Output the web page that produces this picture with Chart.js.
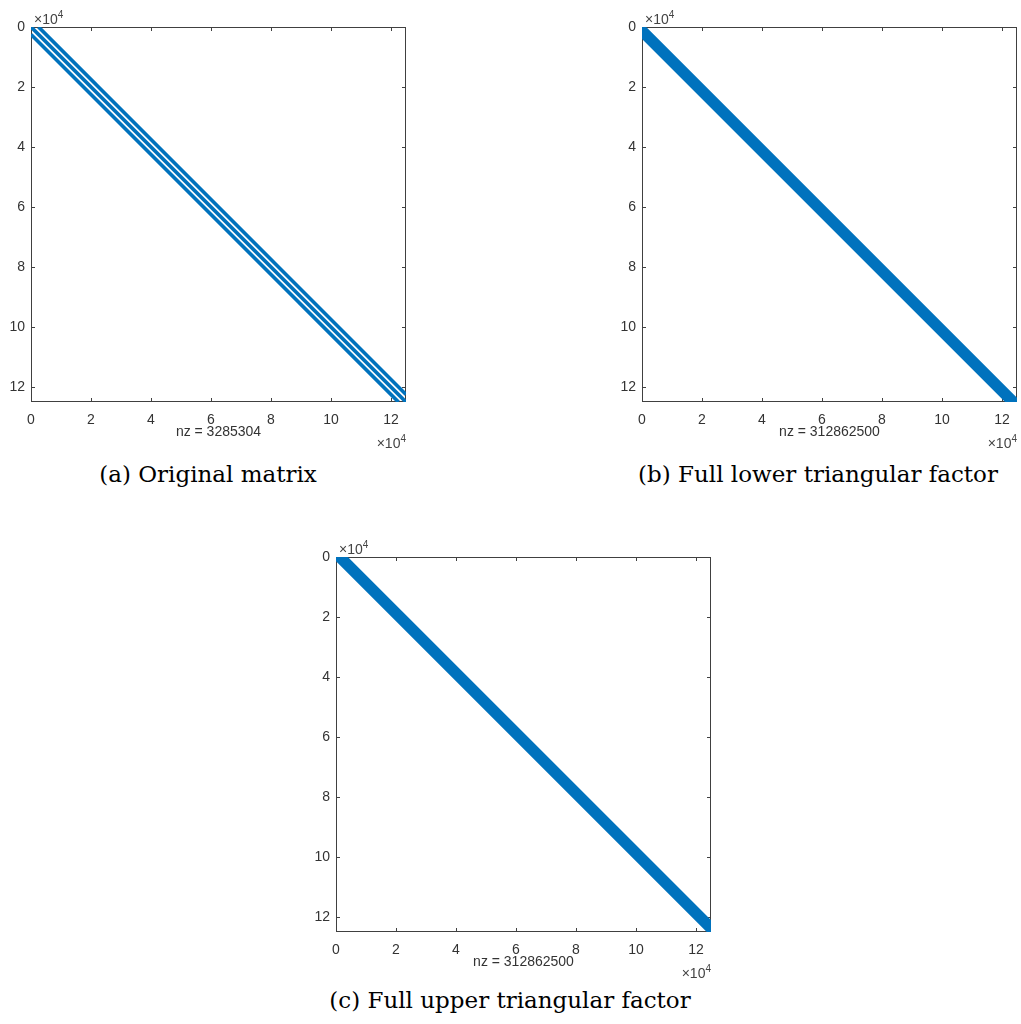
<!DOCTYPE html>
<html>
<head>
<script src="https://cdn.jsdelivr.net/npm/chart.js@4.4.1/dist/chart.umd.min.js"></script>
<style>
  body { margin: 0; background: #fff; overflow: hidden; }
  canvas { position: absolute; }
  .cap { position: absolute; font-family: "DejaVu Serif", serif; font-size: 23px; color: #000;
         transform: translate(-50%, -50%); white-space: nowrap; }
</style>
</head>
<body>

<canvas id="spyA" width="410" height="450" style="left:0px;top:0px"></canvas>
<canvas id="spyB" width="410" height="450" style="left:611px;top:0px"></canvas>
<canvas id="spyC" width="410" height="450" style="left:305px;top:530px"></canvas>

<div class="cap" style="left:208px;top:474px">(a) Original matrix</div>
<div class="cap" style="left:818px;top:474px">(b) Full lower triangular factor</div>
<div class="cap" style="left:510px;top:1000px">(c) Full upper triangular factor</div>

<script>
    // matrix size and structure
    const n = 125000;
    const diagOffsets = [-2500, 0, 2500];
    const bandWidth = 2550;
    const tickVals = [0, 20000, 40000, 60000, 80000, 100000, 120000];
    const nzValues = [3285304, 312862500, 312862500];

    const blue = "#0072BD";
    const tickFont = { family: "Liberation Sans, Arial, sans-serif", size: 14 };
    const textColor = "#333";

    // one line per diagonal: col = row + d
    function diagLine(d) {
        return d >= 0 ? [{x: d, y: 0}, {x: n, y: n - d}] : [{x: 0, y: -d}, {x: n + d, y: n}];
    }

    const origSets = diagOffsets.map(d => ({
        data: diagLine(d),
        showLine: true,
        borderColor: blue,
        borderWidth: 3.7,
        pointRadius: 0,
        fill: false
    }));

    // band polygons, closed back to the first corner
    const lowerSets = [{
        data: [{x: 0, y: 0}, {x: n, y: n}, {x: n - bandWidth, y: n}, {x: 0, y: bandWidth}, {x: 0, y: 0}],
        showLine: true,
        borderColor: blue,
        backgroundColor: blue,
        borderWidth: 6,
        pointRadius: 0,
        fill: "shape"
    }];

    const upperSets = [{
        data: [{x: 0, y: 0}, {x: bandWidth, y: 0}, {x: n, y: n - bandWidth}, {x: n, y: n}, {x: 0, y: 0}],
        showLine: true,
        borderColor: blue,
        backgroundColor: blue,
        borderWidth: 6,
        pointRadius: 0,
        fill: "shape"
    }];

    // box with inward ticks, like matlab axes
    const frame = {
        id: "frame",
        beforeDatasetsDraw(chart) {
            const {ctx, chartArea: a, scales} = chart;
            ctx.save();
            ctx.strokeStyle = "#404040";
            ctx.lineWidth = 1;
            ctx.strokeRect(a.left + 0.5, a.top + 0.5, a.width - 1, a.height - 1);
            ctx.beginPath();
            tickVals.forEach(v => {
                const px = Math.round(scales.x.getPixelForValue(v)) + 0.5;
                ctx.moveTo(px, a.bottom); ctx.lineTo(px, a.bottom - 4);
                ctx.moveTo(px, a.top); ctx.lineTo(px, a.top + 4);
                const py = Math.round(scales.y.getPixelForValue(v)) + 0.5;
                ctx.moveTo(a.left, py); ctx.lineTo(a.left + 4, py);
                ctx.moveTo(a.right, py); ctx.lineTo(a.right - 4, py);
            });
            ctx.stroke();
            ctx.restore();
        },
        afterDraw(chart) {
            const {ctx, chartArea: a} = chart;
            const expo = (x, y, alignRight) => {
                ctx.save();
                ctx.fillStyle = "#444";
                ctx.textBaseline = "alphabetic";
                ctx.font = "14px Liberation Sans, Arial, sans-serif";
                const w1 = ctx.measureText("\u00d710").width;
                ctx.font = "10px Liberation Sans, Arial, sans-serif";
                const w2 = ctx.measureText("4").width;
                const x0 = alignRight ? x - w1 - w2 : x;
                ctx.font = "14px Liberation Sans, Arial, sans-serif";
                ctx.fillText("\u00d710", x0, y);
                ctx.font = "10px Liberation Sans, Arial, sans-serif";
                ctx.fillText("4", x0 + w1, y - 6);
                ctx.restore();
            };
            expo(a.left + 3, a.top - 3, false);
            expo(a.right, a.bottom + 46, true);
        }
    };

    function makeSpy(id, datasets, nz) {
        return new Chart(document.getElementById(id), {
            type: "scatter",
            data: { datasets: datasets },
            plugins: [frame],
            options: {
                responsive: false,
                animation: false,
                layout: { padding: { top: 27, right: 4, left: 0, bottom: 0 } },
                plugins: { legend: { display: false }, tooltip: { enabled: false } },
                scales: {
                    x: {
                        type: "linear", min: 0, max: n + 1,
                        afterBuildTicks: s => { s.ticks = tickVals.map(v => ({value: v})); },
                        afterFit: s => { s.height = 48; },
                        grid: { display: false, drawTicks: false, tickLength: 0 },
                        border: { display: false },
                        ticks: { callback: v => v / 1e4, font: tickFont, color: textColor, padding: 10, maxRotation: 0, autoSkip: false },
                        title: { display: true, text: "nz = " + nz, font: tickFont, color: textColor, padding: { top: 0, bottom: 9 } }
                    },
                    y: {
                        type: "linear", min: 0, max: n + 1, reverse: true,
                        afterBuildTicks: s => { s.ticks = tickVals.map(v => ({value: v})); },
                        afterFit: s => { s.width = 31; },
                        grid: { display: false, drawTicks: false, tickLength: 0 },
                        border: { display: false },
                        ticks: { callback: v => v / 1e4, font: tickFont, color: textColor, padding: 6, autoSkip: false }
                    }
                }
            }
        });
    }

    makeSpy("spyA", origSets, nzValues[0]);
    makeSpy("spyB", lowerSets, nzValues[1]);
    makeSpy("spyC", upperSets, nzValues[2]);
</script>

</body>
</html>
